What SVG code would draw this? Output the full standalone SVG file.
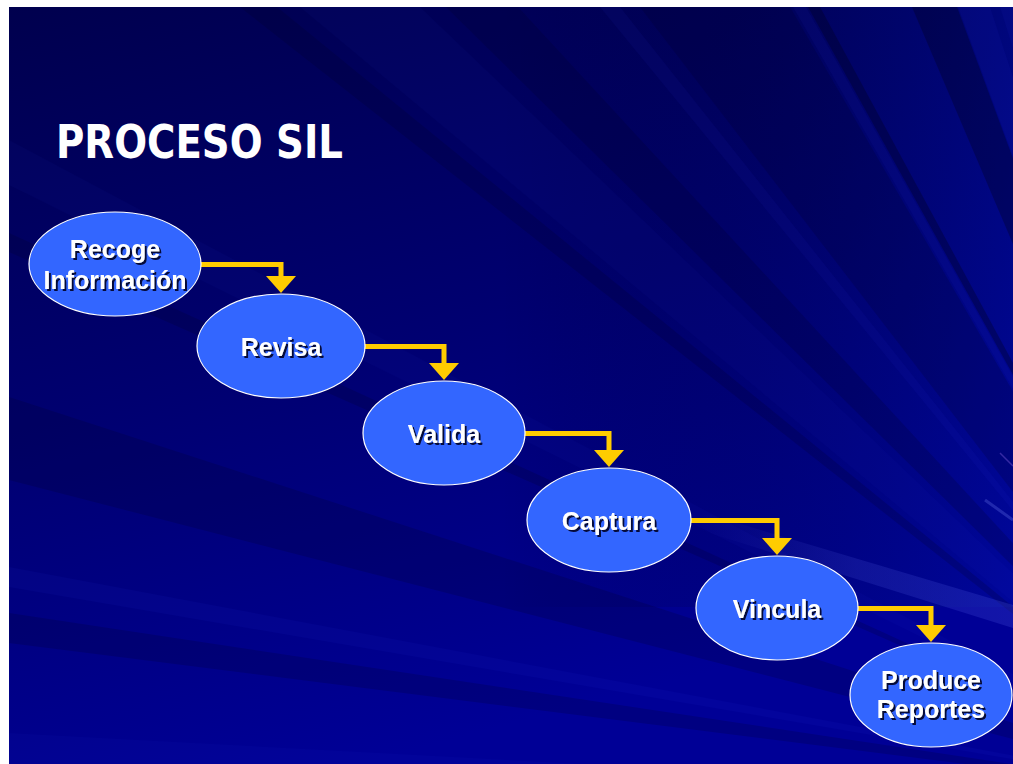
<svg xmlns="http://www.w3.org/2000/svg" width="1013" height="764" viewBox="0 0 1013 764">
  <defs>
    <linearGradient id="bgGrad" x1="0" y1="0" x2="0.35" y2="1">
      <stop offset="0" stop-color="#00004e"/>
      <stop offset="0.5" stop-color="#000070"/>
      <stop offset="1" stop-color="#000096"/>
    </linearGradient>
    <linearGradient id="rightGlow" x1="0" y1="0" x2="1" y2="0">
      <stop offset="0" stop-color="#000000" stop-opacity="0"/>
      <stop offset="1" stop-color="#0010a0" stop-opacity="0.4"/>
    </linearGradient>
    <linearGradient id="glare" x1="0" y1="0" x2="1" y2="0">
      <stop offset="0" stop-color="#6a78ff" stop-opacity="0"/>
      <stop offset="0.5" stop-color="#6a78ff" stop-opacity="0.14"/>
      <stop offset="1" stop-color="#6a78ff" stop-opacity="0.18"/>
    </linearGradient>
    <clipPath id="slideClip">
      <rect x="9" y="7" width="1004" height="757"/>
    </clipPath>
    <filter id="textShadow" x="-10%" y="-20%" width="130%" height="150%">
      <feDropShadow dx="2" dy="2" stdDeviation="0" flood-color="#000022" flood-opacity="0.9"/>
    </filter>
    <marker id="arrowHead" markerUnits="userSpaceOnUse" markerWidth="17" markerHeight="30" refX="0" refY="15" orient="auto" viewBox="0 0 17 30">
      <path d="M0,0 L17,15 L0,30 Z" fill="#ffcc00"/>
    </marker>
  </defs>
  <style>
    .light { fill: #3a48ff; opacity: 0.06; }
    .faint { fill: #3a48ff; opacity: 0.04; }
    .dark { fill: #000020; opacity: 0.18; }
    .darker { fill: #000018; opacity: 0.3; }
    .node ellipse { fill: #3366ff; stroke: #ffffff; stroke-width: 1.2; }
    .node text { font-family: "Liberation Sans", Arial, sans-serif; font-weight: bold; font-size: 25px; fill: #ffffff; text-anchor: middle; filter: url(#textShadow); }
    .link { fill: none; stroke: #ffcc00; stroke-width: 5; stroke-linejoin: miter; marker-end: url(#arrowHead); }
    .title { font-family: "DejaVu Sans", "Liberation Sans", sans-serif; font-weight: bold; font-size: 46px; fill: #ffffff; }
  </style>

  <!-- page -->
  <rect x="0" y="0" width="1013" height="764" fill="#ffffff"/>

  <!-- slide background: gradient plus soft rays fanning out from the lower right -->
  <g id="background" clip-path="url(#slideClip)">
    <rect x="9" y="7" width="1004" height="757" fill="url(#bgGrad)"/>
    <rect x="500" y="7" width="513" height="600" fill="url(#rightGlow)"/>
    <!-- rays toward the top edge -->
    <polygon class="faint" points="1250,800 -1600,-1579 -1240,-1579"/>
    <polygon class="dark" points="1250,800 -1780,-1579 -1669,-1579"/>
    <polygon class="dark" points="1250,800 -1162,-1579 -946,-1579"/>
    <polygon class="light" points="1250,800 -700,-1579 -640,-1579"/>
    <polygon class="dark" points="1250,800 -580,-1579 -130,-1579"/>
    <polygon class="light" points="1250,800 -121,-1579 -82,-1579"/>
    <polygon class="darker" points="1250,800 -76,-1579 -40,-1579"/>
    <polygon class="darker" points="1250,800 236,-1579 371,-1579"/>
    <polygon class="light" points="1250,800 374,-1579 470,-1579"/>
    <polygon class="light" points="1250,800 500,-1579 539,-1579"/>
    <!-- rays toward the left edge -->
    <polygon class="faint" points="1250,800 -2473,-1180 -2473,-1045"/>
    <polygon class="dark" points="1250,800 -2473,-901 -2473,-844"/>
    <polygon class="dark" points="1250,800 -2473,-409 -2473,-160"/>
    <polygon class="light" points="1250,800 -2473,101 -2473,161"/>
    <polygon class="dark" points="1250,800 -2473,239 -2473,329"/>
    <polygon class="faint" points="1250,800 -2473,599 -2473,692"/>
    <!-- glare streak lower right -->
    <polygon points="700,512 1013,605 1013,628 700,530" fill="url(#glare)"/>
    <line x1="1000" y1="453" x2="1013" y2="466" stroke="#b080ff" stroke-opacity="0.3" stroke-width="1.5"/>
    <line x1="985" y1="500" x2="1013" y2="520" stroke="#8090ff" stroke-opacity="0.25" stroke-width="3"/>
  </g>

  <!-- title -->
  <text id="title" class="title" x="56" y="158" textLength="287" lengthAdjust="spacingAndGlyphs">PROCESO SIL</text>

  <!-- connectors -->
  <g id="connectors">
    <polyline class="link" points="200,264.5 281,264.5 281,276"/>
    <polyline class="link" points="364,346.5 444,346.5 444,363"/>
    <polyline class="link" points="524,433.5 609,433.5 609,450"/>
    <polyline class="link" points="690,520.5 777,520.5 777,538"/>
    <polyline class="link" points="857,608.5 931,608.5 931,625"/>
  </g>

  <!-- process steps -->
  <g id="node-recoge" class="node">
    <ellipse cx="115" cy="264" rx="86" ry="52"/>
    <text x="115" y="258">Recoge</text>
    <text x="115" y="289">Información</text>
  </g>
  <g id="node-revisa" class="node">
    <ellipse cx="281" cy="346" rx="84" ry="52"/>
    <text x="281" y="356">Revisa</text>
  </g>
  <g id="node-valida" class="node">
    <ellipse cx="444" cy="433" rx="81" ry="52"/>
    <text x="444" y="443">Valida</text>
  </g>
  <g id="node-captura" class="node">
    <ellipse cx="609" cy="520" rx="82" ry="52"/>
    <text x="609" y="530">Captura</text>
  </g>
  <g id="node-vincula" class="node">
    <ellipse cx="777" cy="608" rx="81" ry="52"/>
    <text x="777" y="618">Vincula</text>
  </g>
  <g id="node-produce" class="node">
    <ellipse cx="931" cy="695" rx="81" ry="52"/>
    <text x="931" y="689">Produce</text>
    <text x="931" y="718">Reportes</text>
  </g>
</svg>
